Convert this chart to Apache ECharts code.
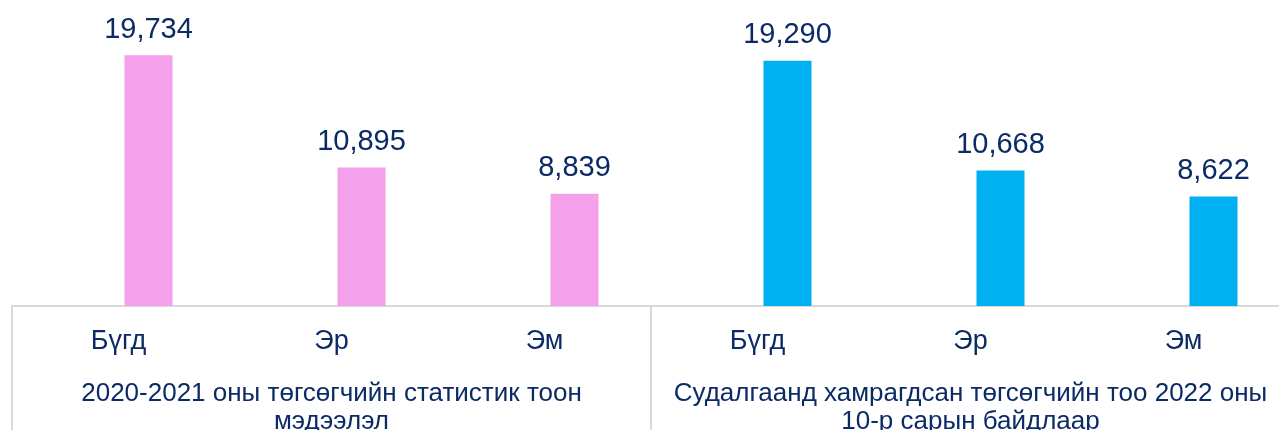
<!DOCTYPE html>
<html>
<head>
<meta charset="utf-8">
<script src="https://cdn.jsdelivr.net/npm/echarts@6/dist/echarts.min.js"></script>
<style>
  html, body { margin: 0; padding: 0; background: #ffffff; overflow: hidden; }
  /* the chart runs a little past the right edge of the window, like the original crop */
  #chart { width: 1320px; height: 430px; }
</style>
</head>
<body>
<div id="chart"></div>
<script>
// categories and values
const categories = ['Бүгд', 'Эр', 'Эм', 'Бүгд', 'Эр', 'Эм'];
const groupNames = [
  '2020-2021 оны төгсөгчийн статистик тоон\nмэдээлэл',
  'Судалгаанд хамрагдсан төгсөгчийн тоо 2022 оны\n10-р сарын байдлаар'
];
const values = [19734, 10895, 8839, 19290, 10668, 8622];
const barColors = ['#F5A0EA', '#F5A0EA', '#F5A0EA', '#00B0F0', '#00B0F0', '#00B0F0'];

const textColor = '#0B2A66';
const lineColor = '#D9D9D9';
const font = '"Liberation Sans", Arial, sans-serif';

const chart = echarts.init(document.getElementById('chart'));

chart.setOption({
  animation: false,
  textStyle: { fontFamily: font },
  grid: [
    // axis / labels grid
    { left: 12, width: 1278, top: 1, bottom: 124, outerBoundsMode: 'none' },
    // bars sit a bit right of the category centre
    { left: 42, width: 1278, top: 1, bottom: 124, outerBoundsMode: 'none' }
  ],
  xAxis: [
    {
      type: 'category',
      gridIndex: 0,
      data: categories,
      axisLine: { lineStyle: { color: lineColor, width: 2 } },
      axisTick: { show: false },
      axisLabel: { color: textColor, fontSize: 27, margin: 22, interval: 0, fontFamily: font }
    },
    {
      type: 'category',
      gridIndex: 0,
      position: 'bottom',
      data: groupNames,
      axisLine: { show: false },
      axisTick: { show: true, interval: 0, length: 124, lineStyle: { color: lineColor, width: 2 } },
      axisLabel: {
        color: textColor, fontSize: 26, margin: 74, lineHeight: 28,
        interval: 0, hideOverlap: false, fontFamily: font
      }
    },
    {
      type: 'category',
      gridIndex: 1,
      data: categories,
      show: false
    }
  ],
  yAxis: [
    { type: 'value', gridIndex: 0, min: 0, max: 24000, show: false },
    { type: 'value', gridIndex: 1, min: 0, max: 24000, show: false }
  ],
  series: [
    {
      type: 'bar',
      xAxisIndex: 2,
      yAxisIndex: 1,
      barWidth: 48,
      data: values.map((v, i) => ({ value: v, itemStyle: { color: barColors[i] } })),
      label: {
        show: true,
        position: 'top',
        distance: 11,
        color: textColor,
        fontSize: 29,
        fontFamily: font,
        formatter: p => p.value.toLocaleString('en-US')
      }
    }
  ]
});
</script>
</body>
</html>
